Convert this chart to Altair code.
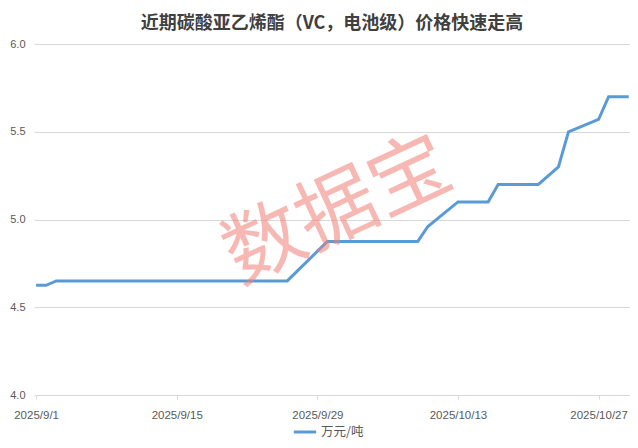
import altair as alt
import pandas as pd

# Data
dates = ["2025-09-01", "2025-09-02", "2025-09-03", "2025-09-26", "2025-09-30",
         "2025-10-09", "2025-10-10", "2025-10-13", "2025-10-16", "2025-10-17",
         "2025-10-21", "2025-10-23", "2025-10-24", "2025-10-27", "2025-10-28",
         "2025-10-30"]
prices = [4.625, 4.625, 4.65, 4.65, 4.875,
          4.875, 4.96, 5.10, 5.10, 5.20,
          5.20, 5.30, 5.50, 5.57, 5.70,
          5.70]
series_name = "万元/吨"
title_text = "近期碳酸亚乙烯酯（VC，电池级）价格快速走高"
watermark_text = "数据宝"
y_ticks = [4.0, 4.5, 5.0, 5.5, 6.0]

df = pd.DataFrame({
    "date": [d + "T00:00:00" for d in dates],
    "price": prices,
    "series": [series_name] * len(dates),
})

cjk = "Noto Sans CJK SC"
lab_font = "Liberation Sans"

x_ticks = [alt.DateTime(year=2025, month=9, date=1),
           alt.DateTime(year=2025, month=9, date=15),
           alt.DateTime(year=2025, month=9, date=29),
           alt.DateTime(year=2025, month=10, date=13),
           alt.DateTime(year=2025, month=10, date=27)]

x_enc = alt.X(
    "date:T",
    scale=alt.Scale(domain=[alt.DateTime(year=2025, month=8, date=31, hours=19),
                            alt.DateTime(year=2025, month=10, date=30, hours=3)]),
    axis=alt.Axis(values=x_ticks, format="%Y/%-m/%-d", title=None, grid=False,
                  domainColor="#d9d9d9", tickColor="#d9d9d9", tickSize=4,
                  labelPadding=10, labelFont=lab_font, labelFontSize=11.5,
                  labelColor="#595959"),
)
y_enc = alt.Y(
    "price:Q",
    scale=alt.Scale(domain=[4.0, 6.0], nice=False, zero=False),
    axis=alt.Axis(values=y_ticks, format=".1f", title=None, domain=False, ticks=False,
                  gridColor="#d9d9d9", labelPadding=9, labelFont=lab_font,
                  labelFontSize=11, labelColor="#595959"),
)

line = alt.Chart(df).mark_line(strokeWidth=3).encode(
    x=x_enc,
    y=y_enc,
    color=alt.Color("series:N",
                    scale=alt.Scale(range=["#5b9bd5"]),
                    legend=alt.Legend(title=None, orient="none", legendX=258, legendY=375,
                                      symbolType="stroke", symbolStrokeWidth=3,
                                      symbolSize=500, padding=0,
                                      labelFont=cjk, labelFontSize=12.5,
                                      labelColor="#595959", labelOffset=3)),
)

wm = alt.Chart(pd.DataFrame({"t": [watermark_text]})).mark_text(
    font=cjk, fontSize=80, angle=335, color="#f27f77", opacity=0.55,
    align="center", baseline="middle",
).encode(text="t:N", x=alt.value(304), y=alt.value(168))

chart = alt.layer(line, wm).properties(
    width=596, height=351,
    title=alt.TitleParams(title_text, font=cjk, fontSize=18, fontWeight="bold",
                          color="#404040", anchor="middle", offset=5),
    autosize="none",
    padding={"left": 26, "top": 36, "right": 0, "bottom": 45},
).configure_view(stroke=None)

chart.save("out.html", embed_options={"renderer": "svg", "actions": False})
